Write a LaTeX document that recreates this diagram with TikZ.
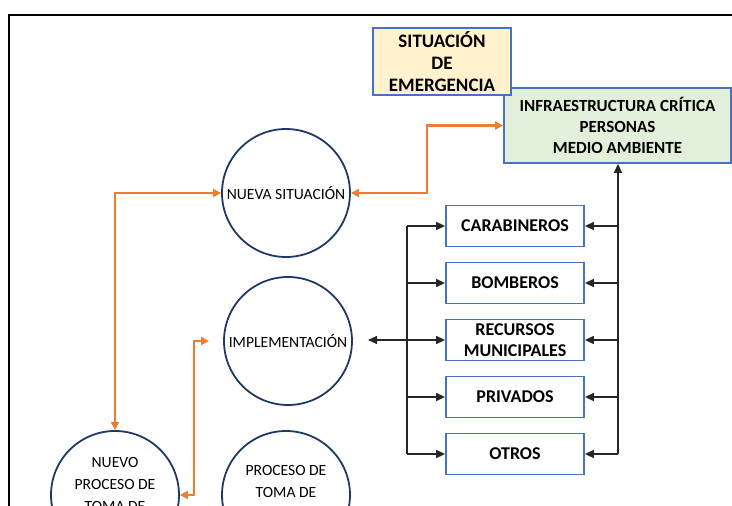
\documentclass[tikz,border=0pt]{standalone}
\usepackage{fontspec}
\setmainfont{Carlito}
\usetikzlibrary{arrows.meta}
\definecolor{orng}{HTML}{ED7D31}
\definecolor{navy}{HTML}{203864}
\definecolor{bluebd}{HTML}{4472C4}
\definecolor{yel}{HTML}{FFF2CC}
\definecolor{grn}{HTML}{E2EFDA}
\definecolor{conn}{HTML}{262626}
\tikzset{
  circ/.style={circle, draw=navy, line width=1.8pt, minimum size=128pt, inner sep=0pt, align=center, font=\fontsize{15.6}{22}\selectfont},
  ctext/.style={align=center, inner sep=0pt, font=\fontsize{15.6}{22}\selectfont},
  svc/.style={rectangle, draw=bluebd, line width=1.8pt, fill=white, minimum width=138pt, minimum height=41pt, inner sep=0pt, align=center, font=\bfseries\fontsize{18}{21}\selectfont},
  blk/.style={draw=conn, line width=1.5pt},
  barr/.style={blk, -{Triangle[length=9pt,width=8pt]}},
  oarr/.style={draw=orng, line width=2.6pt, {Triangle[length=8pt,width=8pt]}-{Triangle[length=8pt,width=8pt]}},
}
\begin{document}
\begin{tikzpicture}[x=1pt,y=-1pt]
\useasboundingbox (0,0) rectangle (732,506);
\clip (0,0) rectangle (732,506);
\fill[white] (0,0) rectangle (732,506);
\draw[line width=2pt, black] (9,530) -- (9,15) -- (760,15);

% circles
\node[circ] (ns) at (286,193) {NUEVA SITUACIÓN};
\node[circ] (imp) at (288,341) {IMPLEMENTACIÓN};
\node[circ] (ptd) at (286,495) {};
\node[ctext, anchor=north] (ptdt) at (286,465) {PROCESO DE\\TOMA DE};
\node[circ] (npd) at (115,495) {};
\node[ctext, anchor=north] (npdt) at (115,457) {NUEVO\\PROCESO DE\\TOMA DE};

% top boxes
\node[rectangle, draw=bluebd, line width=1.8pt, fill=grn, minimum width=227pt, minimum height=75pt, inner sep=0pt, align=center, font=\bfseries\fontsize{17}{21}\selectfont] (infra) at (617.5,125.5) {INFRAESTRUCTURA CRÍTICA\\PERSONAS\\MEDIO AMBIENTE};
\node[rectangle, draw=bluebd, line width=1.8pt, fill=yel, minimum width=138pt, minimum height=67pt, inner sep=0pt, align=center, font=\bfseries\fontsize{19}{22}\selectfont] (sit) at (442,61.5) {SITUACIÓN\\DE\\EMERGENCIA};

% service boxes
\node[svc] (carab) at (515,226) {CARABINEROS};
\node[svc] (bomb) at (515,283) {BOMBEROS};
\node[svc] (recur) at (515,340) {RECURSOS\\MUNICIPALES};
\node[svc] (priv) at (515,397) {PRIVADOS};
\node[svc] (otros) at (515,454) {OTROS};

% left bus
\coordinate (lt) at (407,226);
\coordinate (lb) at (407,454);
\coordinate (impin) at (368,340);
\draw[blk] (lt) -- (lb);
\foreach \b in {carab,bomb,recur,priv,otros} {
  \draw[barr] (\b.west -| lt) -- (\b.west);
}
\draw[barr] (recur.west -| lt) -- (impin);

% right bus
\coordinate (rb) at (618,454);
\draw[barr] (rb) -- (rb |- infra.south);
\foreach \b in {carab,bomb,recur,priv,otros} {
  \draw[barr] (\b.east -| rb) -- (\b.east);
}

% orange connectors
\coordinate (impo) at (209,341);
\draw[oarr] (ns.west) -| (npd.north);
\draw[oarr] (npd.east) -- ++(14,0) |- (impo);
\draw[oarr] (ns.east) -- (427,193) |- (infra.west);
\end{tikzpicture}
\end{document}
